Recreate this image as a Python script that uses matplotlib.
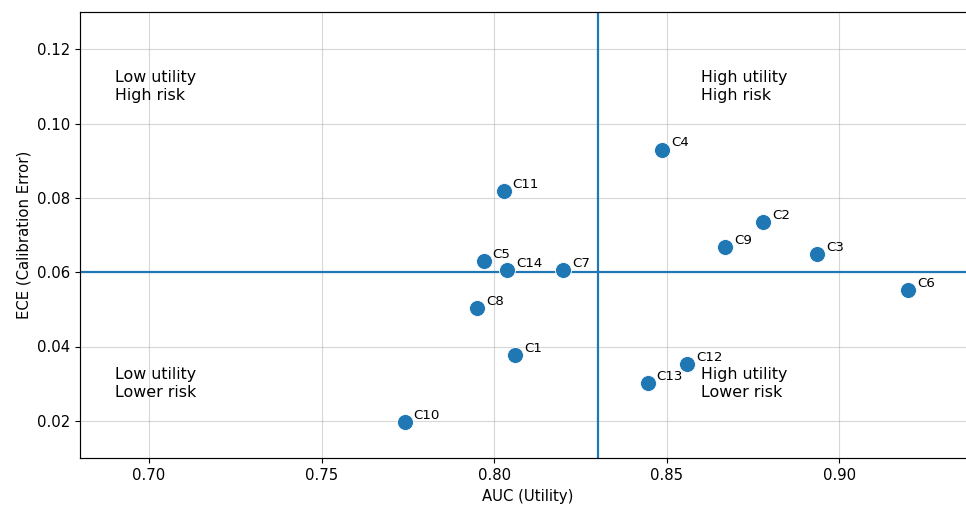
import matplotlib
matplotlib.use('Agg')
import matplotlib.pyplot as plt

# cohort results: utility (AUC) vs. risk (ECE)
names = ['C1', 'C2', 'C3', 'C4', 'C5', 'C6', 'C7',
         'C8', 'C9', 'C10', 'C11', 'C12', 'C13', 'C14']
auc = [0.806, 0.878, 0.8935, 0.8486, 0.797, 0.920, 0.820,
       0.795, 0.867, 0.7741, 0.8028, 0.8559, 0.8445, 0.8037]
ece = [0.0376, 0.0734, 0.0650, 0.0930, 0.0630, 0.0552, 0.0605,
       0.0503, 0.0668, 0.0198, 0.0819, 0.0352, 0.0302, 0.0605]

auc_cut = 0.83
ece_cut = 0.06

quadrant_labels = ['Low utility\nHigh risk', 'High utility\nHigh risk',
                   'Low utility\nLower risk', 'High utility\nLower risk']
quadrant_xy = [(0.69, 0.11), (0.86, 0.11), (0.69, 0.03), (0.86, 0.03)]

plt.rcParams['font.size'] = 10.7
plt.rcParams['axes.linewidth'] = 0.85
plt.rcParams['xtick.major.size'] = 3.7
plt.rcParams['ytick.major.size'] = 3.7

fig = plt.figure(figsize=(9.66, 5.05), dpi=100)
ax = fig.add_axes([80 / 966, 47 / 505, 895 / 966, 446 / 505])

ax.axvline(auc_cut, color='C0', lw=1.6)
ax.axhline(ece_cut, color='C0', lw=1.6)
ax.scatter(auc, ece, s=132, color='C0', edgecolors='white', linewidths=0.6, zorder=3)

for name, x, y in zip(names, auc, ece):
    ax.annotate(name, (x, y), xytext=(6.4, 2.2), textcoords='offset points', fontsize=9.6)

for txt, (x, y) in zip(quadrant_labels, quadrant_xy):
    ax.text(x, y, txt, ha='left', va='center', fontsize=11.4)

ax.set_xlim(0.68, 0.9393)
ax.set_ylim(0.01, 0.13)
ax.set_xticks([0.70, 0.75, 0.80, 0.85, 0.90])
ax.set_yticks([0.02, 0.04, 0.06, 0.08, 0.10, 0.12])
ax.set_xlabel('AUC (Utility)')
ax.set_ylabel('ECE (Calibration Error)')
ax.grid(True, alpha=0.5)
ax.set_axisbelow(True)

fig.savefig('out.png', dpi=100)
